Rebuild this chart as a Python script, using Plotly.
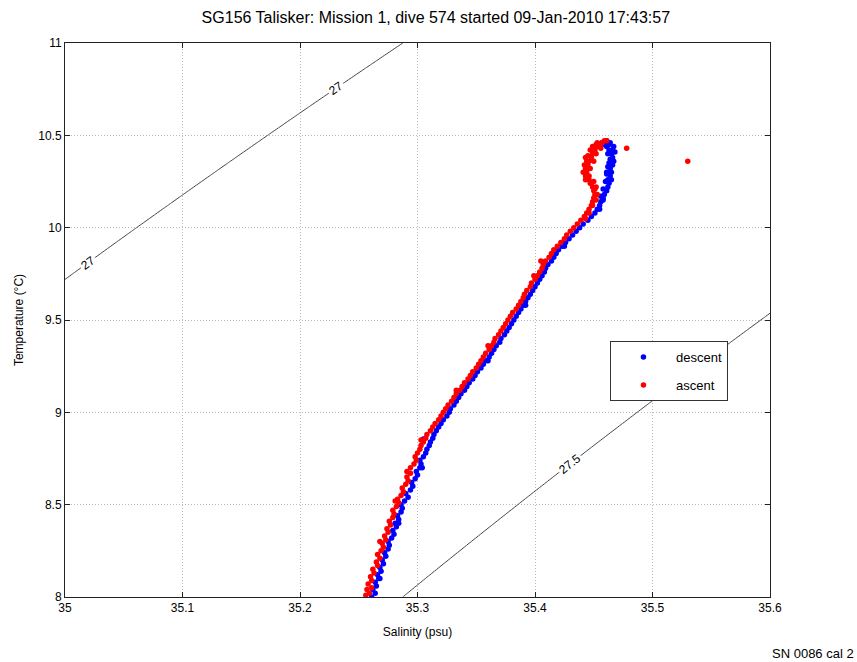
import numpy as np
import plotly.graph_objects as go

# ---- data ----
desc_T = [8.00, 8.02, 8.04, 8.06, 8.08, 8.10, 8.12, 8.14, 8.16, 8.18, 8.20, 8.22, 8.24, 8.26,
          8.28, 8.30, 8.32, 8.34, 8.36, 8.38, 8.40, 8.42, 8.44, 8.46, 8.48, 8.50, 8.52, 8.54,
          8.56, 8.58, 8.60, 8.62, 8.64, 8.66, 8.68, 8.70, 8.72, 8.74, 8.76, 8.78, 8.80, 8.82,
          8.84,
          8.855, 8.86, 8.88, 8.90, 8.92, 8.94, 8.96, 8.98, 9.00,
          9.02, 9.04, 9.06, 9.08, 9.10, 9.12, 9.14, 9.16, 9.18, 9.20,
          9.22, 9.24, 9.26, 9.28, 9.30, 9.32, 9.34, 9.36, 9.38, 9.40,
          9.42, 9.44, 9.46, 9.48, 9.50, 9.52, 9.54, 9.56, 9.58, 9.60,
          9.62, 9.64, 9.66, 9.68, 9.70, 9.72, 9.74, 9.76, 9.78, 9.80,
          9.82, 9.84, 9.86, 9.88, 9.90, 9.92, 9.94, 9.96, 9.98, 10.00,
          10.02, 10.04, 10.06, 10.08, 10.10, 10.12, 10.14, 10.16, 10.18, 10.20,
          10.22, 10.24, 10.26, 10.28, 10.30, 10.32, 10.34, 10.36, 10.38, 10.40,
          10.42, 10.44,
          10.45, 10.46, 10.47, 10.46, 10.44, 10.41, 10.37, 10.33, 10.29, 10.25, 10.21, 10.17,
          10.40, 10.35, 10.30, 10.26, 10.45, 10.42, 10.15, 10.10,
          9.90, 9.58, 9.28, 8.70, 8.40, 8.10]
desc_S = [35.261, 35.264, 35.262, 35.265, 35.264, 35.267, 35.266, 35.269, 35.268, 35.271,
          35.270, 35.273, 35.272, 35.275, 35.276, 35.275, 35.278, 35.280, 35.279, 35.282,
          35.281, 35.284, 35.283, 35.286, 35.287, 35.286, 35.289, 35.292, 35.290, 35.294,
          35.296, 35.295, 35.298, 35.300, 35.299, 35.302, 35.303, 35.302, 35.305, 35.307,
          35.308, 35.310, 35.311,
          35.305, 35.313, 35.314, 35.316, 35.318, 35.320, 35.322, 35.325, 35.327,
          35.328, 35.331, 35.333, 35.335, 35.337, 35.340, 35.342, 35.344, 35.347, 35.349,
          35.351, 35.354, 35.356, 35.358, 35.361, 35.363, 35.365, 35.367, 35.370, 35.371,
          35.374, 35.376, 35.378, 35.380, 35.382, 35.384, 35.386, 35.388, 35.390, 35.392,
          35.394, 35.396, 35.398, 35.400, 35.402, 35.404, 35.406, 35.408, 35.409, 35.411,
          35.414, 35.416, 35.418, 35.420, 35.423, 35.426, 35.429, 35.432, 35.435, 35.438,
          35.441, 35.445, 35.448, 35.451, 35.453, 35.455, 35.456, 35.458, 35.459, 35.461,
          35.462, 35.463, 35.462, 35.464, 35.465, 35.464, 35.466, 35.467, 35.466, 35.465,
          35.463, 35.461,
          35.459, 35.457, 35.461, 35.464, 35.467, 35.468, 35.464, 35.462, 35.461, 35.460,
          35.458, 35.456,
          35.462, 35.463, 35.461, 35.465, 35.463, 35.466, 35.458, 35.455,
          35.425, 35.392, 35.360, 35.304, 35.284, 35.268]

asc_T = [8.01, 8.02, 8.04, 8.05, 8.07, 8.09, 8.11, 8.13, 8.15, 8.17, 8.19, 8.21, 8.23, 8.25,
         8.27, 8.29, 8.31, 8.33, 8.35, 8.37, 8.39, 8.41, 8.43, 8.45, 8.47, 8.49, 8.51, 8.53,
         8.55, 8.57, 8.59, 8.61, 8.63, 8.65, 8.67,
         8.70, 8.72, 8.74, 8.76, 8.78, 8.80, 8.82, 8.84, 8.86, 8.88,
         8.90, 8.92, 8.94, 8.96, 8.98, 9.00, 9.02, 9.04, 9.06, 9.08,
         9.10, 9.12, 9.14, 9.16, 9.18, 9.20, 9.22, 9.24, 9.26, 9.28,
         9.30, 9.32, 9.34, 9.36, 9.38, 9.40, 9.42, 9.44, 9.46, 9.48,
         9.50, 9.52, 9.54, 9.56, 9.58, 9.60, 9.62, 9.64, 9.66, 9.68,
         9.70, 9.72, 9.74, 9.76, 9.78, 9.80, 9.82, 9.84, 9.86, 9.88,
         9.90, 9.92, 9.94, 9.96, 9.98, 10.00, 10.02, 10.04, 10.06, 10.08,
         10.10, 10.12, 10.14, 10.16, 10.18, 10.20,
         10.22, 10.24, 10.26, 10.28, 10.30, 10.32, 10.34, 10.36, 10.38, 10.40,
         10.42, 10.44, 10.45, 10.46, 10.47, 10.47, 10.46, 10.44, 10.42, 10.39,
         10.36, 10.33, 10.30, 10.27, 10.24, 10.21, 10.18, 10.15, 10.43, 10.36,
         10.40, 10.36, 10.32, 10.28, 10.25, 10.22, 10.43, 10.45, 10.38, 10.34,
         10.26, 10.12, 10.08, 10.05,
         9.82, 9.74, 9.36, 9.12, 8.85, 8.68, 8.52, 8.30]
asc_S = [35.256, 35.259, 35.257, 35.261, 35.258, 35.261, 35.260, 35.263, 35.262, 35.266,
         35.265, 35.268, 35.266, 35.269, 35.271, 35.270, 35.273, 35.272, 35.275, 35.274,
         35.277, 35.276, 35.279, 35.280, 35.279, 35.282, 35.284, 35.283, 35.286, 35.288,
         35.287, 35.290, 35.292, 35.291, 35.294,
         35.294, 35.297, 35.299, 35.298, 35.300, 35.302, 35.303, 35.305, 35.307, 35.308,
         35.311, 35.313, 35.315, 35.318, 35.320, 35.322, 35.324, 35.326, 35.329, 35.331,
         35.333, 35.336, 35.338, 35.340, 35.343, 35.345, 35.347, 35.350, 35.352, 35.354,
         35.356, 35.358, 35.361, 35.363, 35.365, 35.366, 35.369, 35.371, 35.373, 35.375,
         35.377, 35.379, 35.381, 35.384, 35.386, 35.388, 35.390, 35.391, 35.393, 35.396,
         35.397, 35.400, 35.402, 35.404, 35.406, 35.407, 35.409, 35.412, 35.414, 35.416,
         35.419, 35.422, 35.425, 35.427, 35.430, 35.433, 35.436, 35.439, 35.442, 35.444,
         35.446, 35.448, 35.449, 35.450, 35.451, 35.450,
         35.449, 35.447, 35.446, 35.443, 35.441, 35.443, 35.445, 35.446, 35.448, 35.449,
         35.451, 35.453, 35.455, 35.457, 35.459, 35.461, 35.453, 35.449, 35.447, 35.445,
         35.444, 35.444, 35.444, 35.445, 35.448, 35.451, 35.453, 35.452, 35.478, 35.530,
         35.452, 35.450, 35.447, 35.446, 35.450, 35.452, 35.456, 35.452, 35.443, 35.442,
         35.443, 35.449, 35.446, 35.443,
         35.405, 35.399, 35.360, 35.333, 35.303, 35.291, 35.281, 35.268]

x_ticks = [35, 35.1, 35.2, 35.3, 35.4, 35.5, 35.6]
y_ticks = [8, 8.5, 9, 9.5, 10, 10.5, 11]
sigma_levels = [27, 27.5]
# temperatures at which each isopycnal is labelled (label placement only)
label_T = {27: [10.756, 9.81], 27.5: [8.72]}

X_RANGE = [35.0, 35.6]
Y_RANGE = [8.0, 11.0]
W, H = 857, 662
ML, MR, MT, MB = 65, 87, 43, 65


def sigma0(S, T):
    # UNESCO 1980 density of seawater at atmospheric pressure, minus 1000
    rw = (999.842594 + 6.793952e-2 * T - 9.095290e-3 * T**2 + 1.001685e-4 * T**3
          - 1.120083e-6 * T**4 + 6.536332e-9 * T**5)
    r = (rw + S * (0.824493 - 4.0899e-3 * T + 7.6438e-5 * T**2 - 8.2467e-7 * T**3 + 5.3875e-9 * T**4)
         + S**1.5 * (-5.72466e-3 + 1.0227e-4 * T - 1.6546e-6 * T**2) + 4.8314e-4 * S**2)
    return r - 1000.0


def salinity_on(level, T):
    lo, hi = 30.0, 40.0
    for _ in range(60):
        mid = 0.5 * (lo + hi)
        if sigma0(mid, T) < level:
            lo = mid
        else:
            hi = mid
    return 0.5 * (lo + hi)


gs = np.linspace(X_RANGE[0], X_RANGE[1], 151)
gt = np.linspace(Y_RANGE[0], Y_RANGE[1], 151)
SS, TT = np.meshgrid(gs, gt)
Z = sigma0(SS, TT)

fig = go.Figure()
fig.add_trace(go.Contour(
    x=gs, y=gt, z=Z, showscale=False, hoverinfo="skip",
    contours=dict(start=sigma_levels[0], end=sigma_levels[-1], size=0.5, coloring="lines",
                  showlabels=False),
    colorscale=[[0, "#444444"], [1, "#444444"]],
    line=dict(width=1), showlegend=False))

fig.add_trace(go.Scatter(x=desc_S, y=desc_T, mode="markers", name="descent",
                         legendgroup="d",
                         marker=dict(color="#0000ff", size=5.5, line=dict(width=0))))
fig.add_trace(go.Scatter(x=asc_S, y=asc_T, mode="markers", name="ascent",
                         legendgroup="a",
                         marker=dict(color="#ff0000", size=5.5, line=dict(width=0))))

# contour labels placed on the computed isopycnals, rotated along the line
px_per_S = (W - ML - MR) / (X_RANGE[1] - X_RANGE[0])
px_per_T = (H - MT - MB) / (Y_RANGE[1] - Y_RANGE[0])
annotations = []
for lev in sigma_levels:
    for T in label_T[lev]:
        S = salinity_on(lev, T)
        eps = 1e-4
        dsdS = (sigma0(S + eps, T) - sigma0(S - eps, T)) / (2 * eps)
        dsdT = (sigma0(S, T + eps) - sigma0(S, T - eps)) / (2 * eps)
        slope = -dsdS / dsdT
        ang = -np.degrees(np.arctan(slope * px_per_T / px_per_S))
        annotations.append(dict(x=S, y=T, xref="x", yref="y", text="%g" % lev,
                                showarrow=False, textangle=ang, bgcolor="white",
                                borderpad=1, font=dict(size=12, color="black")))

annotations.append(dict(text="SN 0086 cal 2", x=(770 - ML) / (W - ML - MR),
                        y=-(653 - (H - MB)) / (H - MT - MB), xref="paper", yref="paper",
                        xanchor="left", yanchor="middle", showarrow=False,
                        font=dict(size=13, color="black")))

axis_common = dict(showline=True, linecolor="#222", linewidth=1, mirror="ticks",
                   ticks="inside", ticklen=5, tickcolor="#222",
                   showgrid=True, gridcolor="#bbbbbb", griddash="1px,2px", gridwidth=1,
                   zeroline=False, tickfont=dict(size=12, color="black"))

fig.update_layout(
    width=W, height=H,
    margin=dict(l=ML, r=MR, t=MT, b=MB),
    paper_bgcolor="white", plot_bgcolor="white",
    font=dict(family="Liberation Sans", color="black"),
    title=dict(text="SG156 Talisker: Mission 1, dive 574 started 09-Jan-2010 17:43:57",
               x=0.526, xref="paper", xanchor="center", y=0.973, yanchor="middle",
               font=dict(size=16)),
    xaxis=dict(range=X_RANGE, tickvals=x_ticks, ticktext=[str(v) for v in x_ticks],
               title=dict(text="Salinity (psu)", font=dict(size=12), standoff=13), **axis_common),
    yaxis=dict(range=Y_RANGE, tickvals=y_ticks, ticktext=[("%g" % v) for v in y_ticks],
               title=dict(text="Temperature (°C)", font=dict(size=12), standoff=12), **axis_common),
    legend=dict(x=0.773, y=0.462, xanchor="left", yanchor="top", bgcolor="white",
                bordercolor="#333", borderwidth=1, font=dict(size=13),
                tracegroupgap=8, itemwidth=55),
    annotations=annotations,
)

fig.write_html("out.html")
